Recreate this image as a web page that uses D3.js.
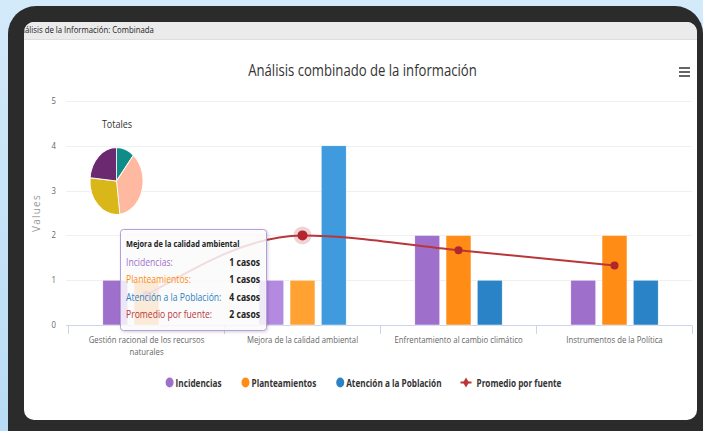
<!DOCTYPE html>
<html>
<head>
<meta charset="utf-8">
<title>Análisis combinado de la información</title>
<style>
  html, body { margin: 0; padding: 0; background: #bfe0f6; }
  svg { display: block; font-family: 'Open Sans', sans-serif; }
</style>
</head>
<body>
<script src="https://d3js.org/d3.v7.min.js"></script>
<script>
// ---- data ----
var categories = ["Gestión racional de los recursos naturales", "Mejora de la calidad ambiental",
                  "Enfrentamiento al cambio climático", "Instrumentos de la Política"];
var seriesNames = ["Incidencias", "Planteamientos", "Atención a la Población"];
var incidencias = [1, 1, 2, 1];
var planteamientos = [1, 1, 2, 2];
var atencion = [0, 4, 1, 1];
var lineName = "Promedio por fuente";
var promedio = [0.67, 2, 1.67, 1.33];
var yTicks = [0, 1, 2, 3, 4, 5];
var pieValues = [11, 37, 28.5, 23.5];
var pieColors = ["#0f8c87", "#ffb9a1", "#d9b719", "#6b2a70"];
var hoverIndex = 1;

var colors = ["#9e70cc", "#ff8c14", "#2a83c6"];
var hoverColors = ["#b48ae0", "#ffa232", "#3f9bdd"];
var lineColor = "#b9363b";

var W = 703, H = 431;
var SX = 0.82; // the original text looks horizontally condensed

var svg = d3.select("body").append("svg")
    .attr("width", W).attr("height", H);

var defs = svg.append("defs");
var bg = defs.append("linearGradient").attr("id", "bg").attr("x1", 0).attr("y1", 0).attr("x2", 0).attr("y2", 1);
bg.append("stop").attr("offset", "0").attr("stop-color", "#d3eafa");
bg.append("stop").attr("offset", "1").attr("stop-color", "#b8dcf5");
defs.append("clipPath").attr("id", "screen")
  .append("rect").attr("x", 24).attr("y", 22).attr("width", 673).attr("height", 398).attr("rx", 10);
var sh = defs.append("filter").attr("id", "shadow").attr("x", "-10%").attr("y", "-10%").attr("width", "130%").attr("height", "130%");
sh.append("feDropShadow").attr("dx", 1).attr("dy", 1).attr("stdDeviation", 1.5).attr("flood-opacity", 0.2);

// helper for condensed text
function label(parent, x, y, s, size, color, anchor, weight) {
  return parent.append("text")
      .attr("transform", "translate(" + x + "," + y + ") scale(" + SX + ",1)")
      .attr("text-anchor", anchor || "start")
      .attr("font-size", size)
      .attr("font-weight", weight || "normal")
      .attr("fill", color)
      .text(s);
}

// ---- device frame ----
svg.append("rect").attr("width", W).attr("height", H).attr("fill", "url(#bg)");
svg.append("rect").attr("x", 8).attr("y", 6).attr("width", 695).attr("height", 460).attr("rx", 28)
    .attr("fill", "#2b2b2b");
svg.append("rect").attr("x", 24).attr("y", 22).attr("width", 673).attr("height", 398).attr("rx", 10)
    .attr("fill", "#ffffff");

var screen = svg.append("g").attr("clip-path", "url(#screen)");
screen.append("rect").attr("x", 24).attr("y", 22).attr("width", 673).attr("height", 17).attr("fill", "#ebebeb");
screen.append("line").attr("x1", 24).attr("x2", 697).attr("y1", 39.5).attr("y2", 39.5).attr("stroke", "#dedede");
var tmp = label(screen, 0, -50, "An", 9.5, "#222");
var anW = tmp.node().getComputedTextLength() * SX;
tmp.remove();
label(screen, 25 - anW, 33, "Análisis de la Información: Combinada", 9.5, "#222");

// ---- chart ----
var chart = screen.append("g");

label(chart, 362.5, 76, "Análisis combinado de la información", 16, "#333", "middle");

[68, 72, 76].forEach(function (y) {
  chart.append("line").attr("x1", 679).attr("x2", 690).attr("y1", y).attr("y2", y)
      .attr("stroke", "#666").attr("stroke-width", 2);
});

var x0 = d3.scaleBand().domain(categories).range([68.5, 692.5]);
var bw = x0.bandwidth();
var x1 = d3.scaleBand().domain(seriesNames).range([0.2 * bw, 0.8 * bw])
    .paddingInner(0.2).paddingOuter(0.1);
var y = d3.scaleLinear().domain([0, 5]).range([325, 101]);

// grid
chart.selectAll(".grid").data(yTicks.slice(1)).enter().append("line")
    .attr("x1", 66).attr("x2", 692)
    .attr("y1", function (d) { return Math.round(y(d)) + 0.5; })
    .attr("y2", function (d) { return Math.round(y(d)) + 0.5; })
    .attr("stroke", "#f0f0f0");

// y labels
yTicks.forEach(function (d) {
  label(chart, 56, y(d) + 3, String(d), 9.5, "#666", "end");
});
chart.append("text")
    .attr("transform", "translate(40," + 213 + ") rotate(-90)")
    .attr("text-anchor", "middle").attr("font-size", 10).attr("letter-spacing", 1.2)
    .attr("fill", "#999").text("Values");

// x axis
chart.append("line").attr("x1", 66).attr("x2", 692.5).attr("y1", 325.5).attr("y2", 325.5)
    .attr("stroke", "#ccd6eb");
var bounds = categories.map(function (c) { return x0(c); }).concat([x0.range()[1]]);
bounds.forEach(function (b) {
  chart.append("line").attr("x1", b).attr("x2", b).attr("y1", 325.5).attr("y2", 334)
      .attr("stroke", "#ccd6eb");
});
categories.forEach(function (c) {
  var cx = x0(c) + bw / 2;
  if (c.length > 36) {
    var cut = c.lastIndexOf(" ", 32);
    label(chart, cx, 343, c.slice(0, cut), 9.5, "#666", "middle");
    label(chart, cx, 355, c.slice(cut + 1), 9.5, "#666", "middle");
  } else {
    label(chart, cx, 343, c, 9.5, "#666", "middle");
  }
});

// bars
var seriesValues = [incidencias, planteamientos, atencion];
seriesNames.forEach(function (name, si) {
  chart.selectAll(".bar" + si).data(categories).enter().append("rect")
      .attr("x", function (c) { return x0(c) + x1(name); })
      .attr("width", x1.bandwidth())
      .attr("y", function (c, i) { return y(seriesValues[si][i]); })
      .attr("height", function (c, i) { return y(0) - y(seriesValues[si][i]); })
      .attr("fill", function (c, i) { return i === hoverIndex ? hoverColors[si] : colors[si]; })
      .attr("stroke", "#fff").attr("stroke-width", 0.5);
});

// average line
var pts = categories.map(function (c, i) { return [x0(c) + bw / 2, y(promedio[i])]; });
chart.append("path")
    .attr("d", d3.line().curve(d3.curveMonotoneX)(pts))
    .attr("fill", "none").attr("stroke", lineColor).attr("stroke-width", 2);
chart.append("circle").attr("cx", pts[hoverIndex][0]).attr("cy", pts[hoverIndex][1]).attr("r", 9)
    .attr("fill", lineColor).attr("opacity", 0.22);
chart.selectAll(".mk").data(pts).enter().append("circle")
    .attr("cx", function (d) { return d[0]; })
    .attr("cy", function (d) { return d[1]; })
    .attr("r", function (d, i) { return i === hoverIndex ? 5 : 4; })
    .attr("fill", "#b3262d");

// pie
var pieG = chart.append("g").attr("transform", "translate(116.5,181) scale(1,1.26)");
var arcs = d3.pie().sort(null)(pieValues);
pieG.selectAll("path").data(arcs).enter().append("path")
    .attr("d", d3.arc().innerRadius(0).outerRadius(26.5))
    .attr("fill", function (d, i) { return pieColors[i]; })
    .attr("stroke", "#fff").attr("stroke-width", 0.8);
label(chart, 117, 128, "Totales", 11, "#333", "middle");

// tooltip
var tip = chart.append("g");
tip.append("rect").attr("x", 120.5).attr("y", 229.5).attr("width", 146).attr("height", 101).attr("rx", 3)
    .attr("fill", "#fff").attr("fill-opacity", 0.82)
    .attr("stroke", "#b69de0").attr("stroke-width", 1).attr("filter", "url(#shadow)");
label(tip, 126, 247, categories[hoverIndex], 9, "#222", "start", "bold");
var rows = seriesNames.map(function (n, si) {
  return { name: n, value: seriesValues[si][hoverIndex], color: colors[si] };
}).concat([{ name: lineName, value: promedio[hoverIndex], color: lineColor }]);
rows.forEach(function (r, i) {
  var ty = 265.5 + i * 17.5;
  label(tip, 126, ty, r.name + ":", 10.5, r.color);
  label(tip, 260, ty, d3.format("~r")(r.value) + " casos", 10.5, "#222", "end", "bold");
});

// legend
var leg = chart.append("g");
var items = seriesNames.map(function (n, si) { return { name: n, color: colors[si], line: false }; })
    .concat([{ name: lineName, color: lineColor, line: true }]);
var widths = items.map(function (it) {
  var t = label(leg, 0, -50, it.name, 10, "#333", "start", "bold");
  var w = t.node().getComputedTextLength() * SX;
  t.remove();
  return w;
});
var symW = [10, 10, 10, 15];
var total = d3.sum(widths) + d3.sum(symW) + 20 * (items.length - 1);
var lx = 363.5 - total / 2;
items.forEach(function (it, i) {
  if (it.line) {
    leg.append("line").attr("x1", lx - 1).attr("x2", lx + 10).attr("y1", 382.5).attr("y2", 382.5)
        .attr("stroke", it.color).attr("stroke-width", 2);
    leg.append("path").attr("d", d3.symbol(d3.symbolDiamond, 30)())
        .attr("transform", "translate(" + (lx + 4.5) + ",382.5)").attr("fill", it.color);
  } else {
    leg.append("ellipse").attr("cx", lx + 4).attr("cy", 382.5).attr("rx", 4).attr("ry", 5)
        .attr("fill", it.color);
  }
  label(leg, lx + symW[i], 386.5, it.name, 10, "#333", "start", "bold");
  lx += symW[i] + widths[i] + 20;
});
</script>
</body>
</html>
